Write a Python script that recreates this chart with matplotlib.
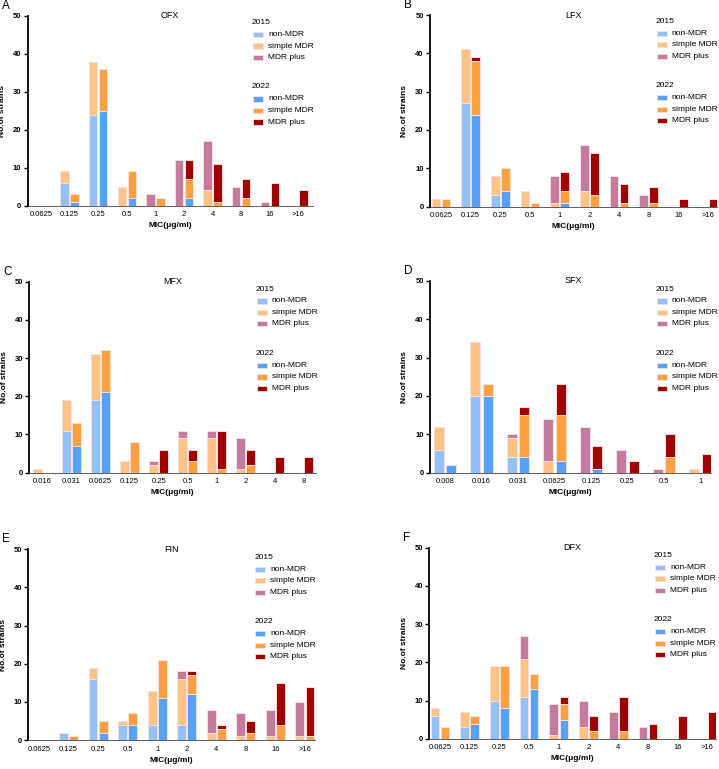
import matplotlib
matplotlib.use('Agg')
import matplotlib.pyplot as plt
from matplotlib.patches import Rectangle
import numpy as np

plt.rcParams['font.family'] = ['Liberation Sans', 'DejaVu Sans']

# ---------------- data ----------------
groups = ['non-MDR', 'simple MDR', 'MDR plus']
years = ['2015', '2022']

cats_A = ['0.0625', '0.125', '0.25', '0.5', '1', '2', '4', '8', '16', '>16']
A15_non = [0, 6, 24, 0, 0, 0, 0, 0, 0, 0]
A15_sim = [0, 3, 14, 5, 0, 0, 4, 0, 0, 0]
A15_plus = [0, 0, 0, 0, 3, 12, 13, 5, 1, 0]
A22_non = [0, 1, 25, 2, 0, 2, 0, 0, 0, 0]
A22_sim = [0, 2, 11, 7, 2, 5, 1, 2, 0, 0]
A22_plus = [0, 0, 0, 0, 0, 5, 10, 5, 6, 4]

cats_B = ['0.0625', '0.125', '0.25', '0.5', '1', '2', '4', '8', '16', '>16']
B15_non = [0, 27, 3, 0, 0, 0, 0, 0, 0, 0]
B15_sim = [2, 14, 5, 4, 1, 4, 0, 0, 0, 0]
B15_plus = [0, 0, 0, 0, 7, 12, 8, 3, 0, 0]
B22_non = [0, 24, 4, 0, 1, 0, 0, 0, 0, 0]
B22_sim = [2, 14, 6, 1, 3, 3, 1, 1, 0, 0]
B22_plus = [0, 1, 0, 0, 5, 11, 5, 4, 2, 2]

cats_C = ['0.016', '0.031', '0.0625', '0.125', '0.25', '0.5', '1', '2', '4', '8']
C15_non = [0, 11, 19, 0, 0, 0, 0, 0, 0, 0]
C15_sim = [1, 8, 12, 3, 2, 9, 9, 1, 0, 0]
C15_plus = [0, 0, 0, 0, 1, 2, 2, 8, 0, 0]
C22_non = [0, 7, 21, 0, 0, 0, 0, 0, 0, 0]
C22_sim = [0, 6, 11, 8, 0, 3, 1, 2, 0, 0]
C22_plus = [0, 0, 0, 0, 6, 3, 10, 4, 4, 4]

cats_D = ['0.008', '0.016', '0.031', '0.0625', '0.125', '0.25', '0.5', '1']
D15_non = [6, 20, 4, 0, 0, 0, 0, 0]
D15_sim = [6, 14, 5, 3, 0, 0, 0, 1]
D15_plus = [0, 0, 1, 11, 12, 6, 1, 0]
D22_non = [2, 20, 4, 3, 1, 0, 0, 0]
D22_sim = [0, 3, 11, 12, 0, 0, 4, 0]
D22_plus = [0, 0, 2, 8, 6, 3, 6, 5]

cats_E = ['0.0625', '0.125', '0.25', '0.5', '1', '2', '4', '8', '16', '>16']
E15_non = [0, 2, 16, 4, 4, 4, 0, 0, 0, 0]
E15_sim = [0, 0, 3, 1, 9, 12, 2, 1, 1, 1]
E15_plus = [0, 0, 0, 0, 0, 2, 6, 6, 7, 9]
E22_non = [0, 0, 2, 4, 11, 12, 0, 0, 0, 0]
E22_sim = [0, 1, 3, 3, 10, 5, 3, 2, 4, 1]
E22_plus = [0, 0, 0, 0, 0, 1, 1, 3, 11, 13]

cats_F = ['0.0625', '0.125', '0.25', '0.5', '1', '2', '4', '8', '16', '>16']
F15_non = [6, 3, 10, 11, 0, 0, 0, 0, 0, 0]
F15_sim = [2, 4, 9, 10, 1, 3, 0, 0, 0, 0]
F15_plus = [0, 0, 0, 6, 8, 7, 7, 3, 0, 0]
F22_non = [0, 4, 8, 13, 5, 0, 0, 0, 0, 0]
F22_sim = [3, 2, 11, 4, 4, 2, 2, 0, 0, 0]
F22_plus = [0, 0, 0, 0, 2, 4, 9, 4, 6, 7]

# ---------------- style ----------------
COL15 = ['#93c1f8', '#ffc285', '#c47b9e']
COL22 = ['#55a2f8', '#ffa040', '#a00000']
EDGE = '#f6e0e3'

W, H = 719, 769
fig = plt.figure(figsize=(W / 100, H / 100), dpi=100)


def fx(x):
    return x / W


def fy(y):
    return 1 - y / H


# geometry: (letter, title, cats, s15, s22, left, right, top, bottom, xlim, width, off, legend_x, legend_y)
panels = [
    ('A', 'OFX', cats_A, [A15_non, A15_sim, A15_plus], [A22_non, A22_sim, A22_plus],
     27.7, 312.7, 16.0, 205.6, (-0.465, 9.5), 0.30, 0.175, 252, 23),
    ('B', 'LFX', cats_B, [B15_non, B15_sim, B15_plus], [B22_non, B22_sim, B22_plus],
     430.0, 717.0, 15.0, 206.6, (-0.37, 9.3), 0.29, 0.17, 655.7, 21.7),
    ('C', 'MFX', cats_C, [C15_non, C15_sim, C15_plus], [C22_non, C22_sim, C22_plus],
     29.3, 315.8, 281.7, 472.5, (-0.46, 9.42), 0.30, 0.175, 255.7, 289.3),
    ('D', 'SFX', cats_D, [D15_non, D15_sim, D15_plus], [D22_non, D22_sim, D22_plus],
     430.0, 711.4, 280.7, 472.7, (-0.41, 7.3), 0.28, 0.17, 655.7, 289.3),
    ('E', 'FIN', cats_E, [E15_non, E15_sim, E15_plus], [E22_non, E22_sim, E22_plus],
     28.3, 315.1, 549.0, 740.25, (-0.37, 9.35), 0.29, 0.17, 254.3, 557.7),
    ('F', 'DFX', cats_F, [F15_non, F15_sim, F15_plus], [F22_non, F22_sim, F22_plus],
     429.3, 715.7, 547.7, 738.9, (-0.36, 9.28), 0.29, 0.17, 654.0, 555.7),
]

for (letter, title, cats, s15, s22, L, R, T, B, xlim, bw, off, lx, ly) in panels:
    ax = fig.add_axes([fx(L), fy(B), (R - L) / W, (B - T) / H])
    x = np.arange(len(cats))
    for series, cols, sign in ((s15, COL15, -1), (s22, COL22, 1)):
        bottom = np.zeros(len(cats))
        for vals, c in zip(series, cols):
            v = np.array(vals, dtype=float)
            m = v > 0
            ax.bar(x[m] + sign * off, v[m], bw, bottom=bottom[m], color=c,
                   edgecolor=EDGE, linewidth=0.7, zorder=2)
            bottom += v
    ax.set_xlim(*xlim)
    ax.set_ylim(0, 50)
    ax.set_yticks([0, 10, 20, 30, 40, 50])
    ax.set_xticks(x)
    ax.set_xticklabels(cats, fontsize=5.5)
    for t in ax.get_yticklabels():
        t.set_fontweight('bold')
        t.set_fontsize(5.5)
    for s in ('top', 'right'):
        ax.spines[s].set_visible(False)
    ax.spines['left'].set_linewidth(1.3)
    ax.spines['bottom'].set_linewidth(0.6)
    ax.spines['bottom'].set_color('#444444')
    ax.tick_params(axis='y', length=3, width=1.0, pad=1.5)
    ax.tick_params(axis='x', length=0, pad=4)
    ax.set_ylabel('No.of strains', fontsize=6, fontweight='bold')
    ax.yaxis.set_label_coords(-21.5 / (R - L), 0.5)
    ax.set_xlabel('MIC(μg/ml)', fontsize=6, fontweight='bold')
    ax.xaxis.set_label_coords(0.5, -16.5 / (B - T))
    # title at top
    fig.text(fx((L + R) / 2 if letter not in ('B', 'D', 'F') else L + 143), fy(T), title,
             fontsize=6.5, ha='center', va='center')
    # panel letter
    fig.text(fx(L - 26 if letter in ('A', 'C', 'E') else L - 26), fy(T - 10), letter,
             fontsize=8.5, ha='left', va='center')
    # legend
    offsets = [0, 11.5, 23, 34.5, 64, 76, 87.5, 99]
    for yr_i, (yr, cols) in enumerate(((years[0], COL15), (years[1], COL22))):
        base = ly + offsets[4 * yr_i]
        fig.text(fx(lx), fy(base), yr, fontsize=6, ha='left', va='center')
        for k in range(3):
            yy = ly + offsets[4 * yr_i + k + 1]
            fig.add_artist(Rectangle((fx(lx + 1), fy(yy + 2.7)), 10 / W, 5.4 / H,
                                     transform=fig.transFigure, facecolor=cols[k],
                                     edgecolor=EDGE, linewidth=0.6))
            fig.text(fx(lx + 16), fy(yy), groups[k], fontsize=6, ha='left', va='center')

fig.savefig('out.png', dpi=100)
